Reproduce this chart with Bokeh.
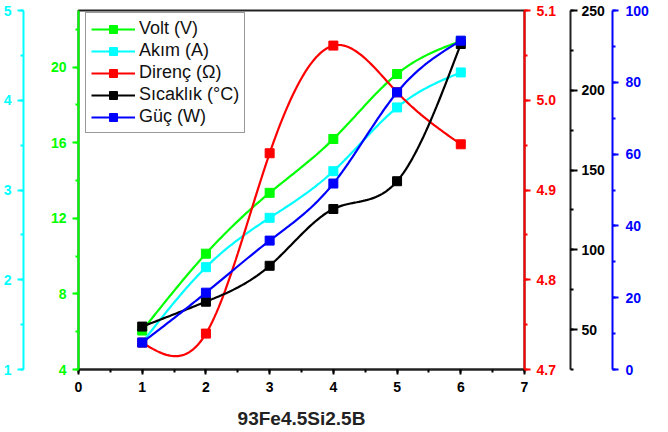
import numpy as np
from bokeh.plotting import figure
from bokeh.models import (LinearAxis, Range1d, Legend, LegendItem, SingleIntervalTicker,
                          PrintfTickFormatter)
from bokeh.embed import file_html
from bokeh.resources import INLINE

# ---- data ----
x = [1, 2, 3, 4, 5, 6]
volt = [6.06, 10.13, 13.35, 16.2, 19.64, 21.38]
akim = [1.30, 2.14, 2.69, 3.21, 3.92, 4.31]
direnc = [4.730, 4.740, 4.941, 5.061, 5.009, 4.951]
sicaklik = [51.9, 67.5, 90.0, 125.6, 143.0, 229.0]
guc = [7.5, 21.4, 35.9, 51.8, 77.2, 91.6]
labels = ["Volt (V)", "Akım (A)", "Direnç (Ω)", "Sıcaklık (°C)", "Güç (W)"]
x_title = "93Fe4.5Si2.5B"

GREEN, CYAN, RED, BLACK, BLUE = "#00FF00", "#00FFFF", "#FF0000", "#000000", "#0000FF"
FONT = "Liberation Sans"


def natural_spline(xs, ys, n=30):
    """Smooth drawing path through the points (natural cubic spline)."""
    xs = np.asarray(xs, float)
    ys = np.asarray(ys, float)
    k = len(xs)
    h = np.diff(xs)
    A = np.zeros((k, k))
    b = np.zeros(k)
    A[0, 0] = 1
    A[-1, -1] = 1
    for i in range(1, k - 1):
        A[i, i - 1] = h[i - 1]
        A[i, i] = 2 * (h[i - 1] + h[i])
        A[i, i + 1] = h[i]
        b[i] = 6 * ((ys[i + 1] - ys[i]) / h[i] - (ys[i] - ys[i - 1]) / h[i - 1])
    M = np.linalg.solve(A, b)
    px, py = [], []
    for i in range(k - 1):
        t = np.linspace(xs[i], xs[i + 1], n, endpoint=(i == k - 2))
        a = xs[i + 1] - t
        c = t - xs[i]
        yy = (M[i] * a ** 3 + M[i + 1] * c ** 3) / (6 * h[i]) \
            + (ys[i] / h[i] - M[i] * h[i] / 6) * a \
            + (ys[i + 1] / h[i] - M[i + 1] * h[i] / 6) * c
        px.extend(t)
        py.extend(yy)
    return px, py


W, H = 664, 432
p = figure(width=W, height=H, output_backend="svg", toolbar_location=None,
           x_range=Range1d(0, 7), y_range=Range1d(4, 23),
           min_border_top=10, min_border_bottom=H - 369,
           min_border_left=78, min_border_right=W - 524)
p.extra_y_ranges = {
    "cyan": Range1d(1, 5.0001),
    "red": Range1d(4.7, 5.1001),
    "black": Range1d(25, 250.001),
    "blue": Range1d(0, 100.001),
}
p.xgrid.visible = False
p.ygrid.visible = False
p.outline_line_color = "#222222"
p.outline_line_width = 2
p.background_fill_color = "white"
p.border_fill_color = "white"


def style_axis(ax, color, interval, tick_out=6, standoff=6, pad=None):
    ax.ticker = SingleIntervalTicker(interval=interval, num_minor_ticks=2)
    ax.axis_line_color = color
    ax.axis_line_width = 2
    ax.major_tick_line_color = color
    ax.minor_tick_line_color = color
    ax.major_tick_line_width = 2
    ax.minor_tick_line_width = 2
    ax.major_tick_out = tick_out
    ax.major_tick_in = 0
    ax.minor_tick_out = 3
    ax.minor_tick_in = 0
    ax.major_label_text_color = color
    ax.major_label_text_font = FONT
    ax.major_label_text_font_style = "bold"
    ax.major_label_text_font_size = "14px"
    ax.major_label_standoff = standoff
    if pad is not None:
        ax.axis_label = " "
        ax.axis_label_standoff = pad
        ax.axis_label_text_font_size = "1px"


# x axis
xa = p.xaxis[0]
style_axis(xa, BLACK, 1, tick_out=5, standoff=7)
xa.axis_line_color = "#222222"
xa.axis_label = x_title
xa.axis_label_text_font = FONT
xa.axis_label_text_font_style = "bold"
xa.axis_label_text_font_size = "19px"
xa.axis_label_text_color = "#222222"
xa.axis_label_standoff = 13

# green (main) left axis
ga = p.yaxis[0]
style_axis(ga, GREEN, 4, tick_out=6, standoff=6, pad=20)

# cyan outer left axis
ca = LinearAxis(y_range_name="cyan")
style_axis(ca, CYAN, 1, tick_out=6, standoff=6)
p.add_layout(ca, "left")

# red right axis
ra = LinearAxis(y_range_name="red")
style_axis(ra, RED, 0.1, tick_out=6, standoff=6, pad=7)
ra.formatter = PrintfTickFormatter(format="%.1f")
p.add_layout(ra, "right")

# black right axis
ba = LinearAxis(y_range_name="black")
style_axis(ba, BLACK, 50, tick_out=7, standoff=4, pad=1)
ba.axis_line_color = "#222222"
p.add_layout(ba, "right")

# blue right axis
bla = LinearAxis(y_range_name="blue")
style_axis(bla, BLUE, 20, tick_out=6, standoff=7)
p.add_layout(bla, "right")

series = [
    (volt, GREEN, "default"),
    (akim, CYAN, "cyan"),
    (direnc, RED, "red"),
    (sicaklik, BLACK, "black"),
    (guc, BLUE, "blue"),
]

items = []
for (ys, color, rng), lab in zip(series, labels):
    sx, sy = natural_spline(x, ys)
    l = p.line(sx, sy, line_color=color, line_width=2.2, y_range_name=rng)
    s = p.scatter(x, ys, marker="square", size=9, fill_color=color, line_color=color,
                  y_range_name=rng)
    items.append(LegendItem(label=lab, renderers=[l, s]))

legend = Legend(items=items, location=(7, 236), margin=0)
legend.label_text_font = FONT
legend.label_text_font_size = "18px"
legend.label_text_color = "#111111"
legend.glyph_width = 44
legend.glyph_height = 20
legend.label_height = 20
legend.label_standoff = 4
legend.spacing = 1
legend.padding = 5
legend.border_line_color = "#333333"
legend.border_line_width = 1.5
legend.background_fill_alpha = 1
p.add_layout(legend)

open("out.html", "w").write(file_html(p, INLINE))
